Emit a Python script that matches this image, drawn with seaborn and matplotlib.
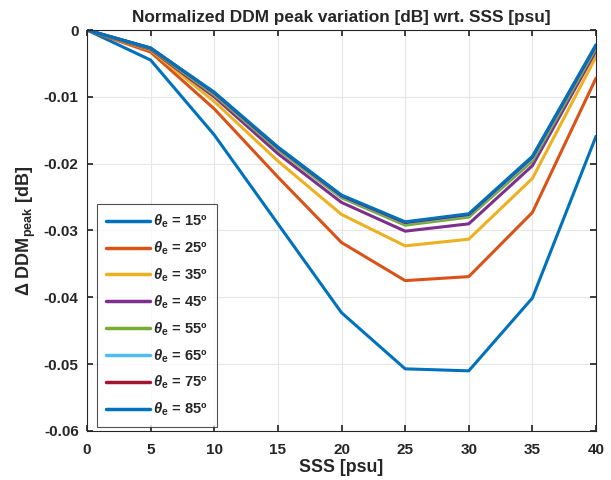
import matplotlib
matplotlib.use("Agg")
import matplotlib.pyplot as plt
import seaborn as sns
import pandas as pd
import numpy as np

sss = [0, 5, 10, 15, 20, 25, 30, 35, 40]
theta_labels = ["15", "25", "35", "45", "55", "65", "75", "85"]
d15 = [0, -0.0045, -0.0157, -0.0290, -0.0423, -0.0507, -0.0510, -0.0401, -0.0159]
d25 = [0, -0.0033, -0.0118, -0.0220, -0.0318, -0.0375, -0.0369, -0.0273, -0.0072]
d35 = [0, -0.0030, -0.0107, -0.0196, -0.0276, -0.0323, -0.0313, -0.0222, -0.0040]
d45 = [0, -0.0029, -0.0100, -0.0185, -0.0258, -0.0301, -0.0290, -0.0203, -0.0031]
d55 = [0, -0.0028, -0.0097, -0.0179, -0.0251, -0.0292, -0.0280, -0.0196, -0.0027]
d65 = [0, -0.0027, -0.0095, -0.0177, -0.0249, -0.0289, -0.0277, -0.0192, -0.0024]
d75 = [0, -0.0027, -0.0094, -0.0176, -0.0248, -0.0288, -0.0276, -0.0190, -0.0023]
d85 = [0, -0.0027, -0.0093, -0.0175, -0.0247, -0.0287, -0.0275, -0.0189, -0.0022]
series = [d15, d25, d35, d45, d55, d65, d75, d85]
colors = ["#0072BD", "#D95319", "#EDB120", "#7E2F8E", "#77AC30", "#4DBEEE", "#A2142F", "#0072BD"]

sns.set_theme(style="white")
plt.rcParams['font.family'] = ['Liberation Sans', 'DejaVu Sans']
plt.rcParams['font.weight'] = 'bold'
plt.rcParams['mathtext.fontset'] = 'custom'
plt.rcParams['mathtext.rm'] = 'Liberation Sans:bold'
plt.rcParams['mathtext.it'] = 'Liberation Sans:italic:bold'
plt.rcParams['mathtext.bf'] = 'Liberation Sans:bold'

labels = [r"$\theta_{\mathrm{e}}$ = " + t + "º" for t in theta_labels]
rows = []
for lab, vals in zip(labels, series):
    for x, v in zip(sss, vals):
        rows.append({"SSS": x, "val": v, "theta": lab})
df = pd.DataFrame(rows)

fig = plt.figure(figsize=(6.11, 4.8), dpi=100)
ax = fig.add_axes([0.1424, 0.1021, 0.8331, 0.8354])
sns.lineplot(data=df, x="SSS", y="val", hue="theta", hue_order=labels,
             palette=colors, linewidth=2.2, ax=ax, sort=False)

ax.set_xlim(0, 40)
ax.set_ylim(-0.06, 0)
ax.set_xticks(sss)
yt = [0, -0.01, -0.02, -0.03, -0.04, -0.05, -0.06]
ax.set_yticks(yt)
ax.set_yticklabels(["0" if v == 0 else f"{v:.2f}" for v in yt])
ax.grid(True, color="#e6e6e6", linewidth=0.8)
ax.tick_params(direction="in", length=4, labelsize=11, colors="#262626",
               top=True, right=True, bottom=True, left=True)
ax.tick_params(axis="y", pad=6)
ax.tick_params(axis="x", pad=9)
for lab in ax.get_xticklabels() + ax.get_yticklabels():
    lab.set_fontweight("bold")
for s in ax.spines.values():
    s.set_color("#262626")
    s.set_linewidth(0.8)
ax.set_xlabel("SSS [psu]", fontsize=12.8, fontweight="bold", color="#262626", labelpad=1)
ax.set_ylabel(r"$\Delta$ DDM$_{\mathrm{peak}}$ [dB]", fontsize=13, fontweight="bold",
              color="#262626", labelpad=4)
ax.set_title("Normalized DDM peak variation [dB] wrt. SSS [psu]", fontsize=12.4,
             fontweight="bold", pad=6)
leg = ax.legend(loc="lower left", bbox_to_anchor=(0.0196, 0.01), borderaxespad=0,
                fontsize=10.6, frameon=True, fancybox=False, edgecolor="#262626",
                handlelength=3.0, labelspacing=0.64, borderpad=0.6, handletextpad=0.2)
leg.get_frame().set_linewidth(0.8)
for line in leg.get_lines():
    line.set_linewidth(2.5)
fig.savefig("out.png", dpi=100)
